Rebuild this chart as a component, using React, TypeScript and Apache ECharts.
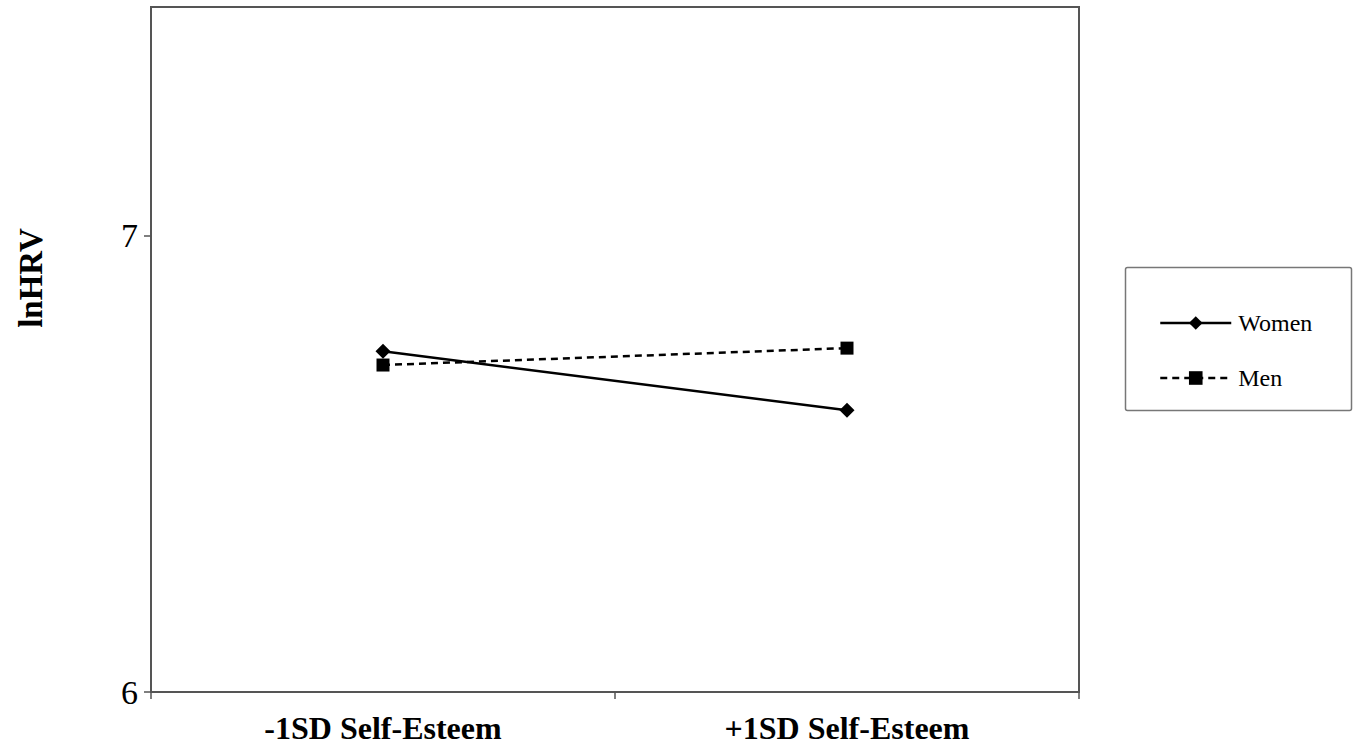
import React, { useEffect, useRef } from "react";
import * as echarts from "echarts";

const categories = ["-1SD Self-Esteem", "+1SD Self-Esteem"];
const womenValues = [6.746, 6.617];
const menValues = [6.716, 6.753];
const yTickValues = [6, 7];

const FONT = "'Liberation Serif', 'Times New Roman', serif";
const AXIS_COLOR = "#555";

export default function App() {
  const ref = useRef<HTMLDivElement>(null);
  useEffect(() => {
    document.body.style.margin = "0";
    const chart = echarts.init(ref.current!, null, { renderer: "svg" });
    chart.setOption({
      animation: false,
      backgroundColor: "#fff",
      grid: {
        left: 151,
        right: 276,
        top: 7,
        bottom: 54,
        show: true,
        borderColor: AXIS_COLOR,
        borderWidth: 2,
      },
      xAxis: {
        type: "category",
        data: categories,
        boundaryGap: true,
        axisLine: { lineStyle: { color: AXIS_COLOR, width: 2 } },
        axisTick: { show: true, length: 7, lineStyle: { color: AXIS_COLOR, width: 1.5 } },
        axisLabel: {
          margin: 20,
          color: "#000",
          fontFamily: FONT,
          fontWeight: "bold",
          fontSize: 32,
        },
        splitLine: { show: false },
      },
      yAxis: {
        type: "value",
        min: 6,
        max: 7.5,
        interval: 1,
        axisLine: { show: true, lineStyle: { color: AXIS_COLOR, width: 2 } },
        axisTick: {
          show: true,
          length: 7,
          customValues: yTickValues,
          lineStyle: { color: AXIS_COLOR, width: 1.5 },
        },
        axisLabel: {
          margin: 13,
          color: "#000",
          fontFamily: FONT,
          fontSize: 34,
          customValues: yTickValues,
        },
        splitLine: { show: false },
      },
      legend: {
        orient: "vertical",
        left: 1159,
        top: 311,
        padding: 0,
        itemWidth: 71,
        itemHeight: 17,
        itemGap: 31,
        lineStyle: { width: 2.5 },
        textStyle: { fontFamily: FONT, fontSize: 24, color: "#000", padding: [0, 0, 0, 2] },
        data: ["Women", "Men"],
      },
      graphic: [
        {
          type: "rect",
          left: 1123,
          top: 265,
          shape: { width: 226, height: 143, r: 2 },
          style: { fill: "none", stroke: "#777", lineWidth: 1.5 },
        },
        {
          type: "text",
          x: 31,
          y: 278,
          rotation: Math.PI / 2,
          style: {
            text: "lnHRV",
            fill: "#000",
            font: "bold 33px " + FONT,
            textAlign: "center",
            textVerticalAlign: "middle",
          },
        },
      ],
      series: [
        {
          name: "Women",
          type: "line",
          data: womenValues,
          symbol: "diamond",
          symbolSize: 15,
          lineStyle: { color: "#000", width: 2.5, type: "solid" },
          itemStyle: { color: "#000" },
        },
        {
          name: "Men",
          type: "line",
          data: menValues,
          symbol: "rect",
          symbolSize: 13,
          lineStyle: { color: "#000", width: 2.5, type: [7, 5] },
          itemStyle: { color: "#000" },
        },
      ],
    });
    return () => chart.dispose();
  }, []);
  return <div ref={ref} style={{ width: 1355, height: 746 }} />;
}
